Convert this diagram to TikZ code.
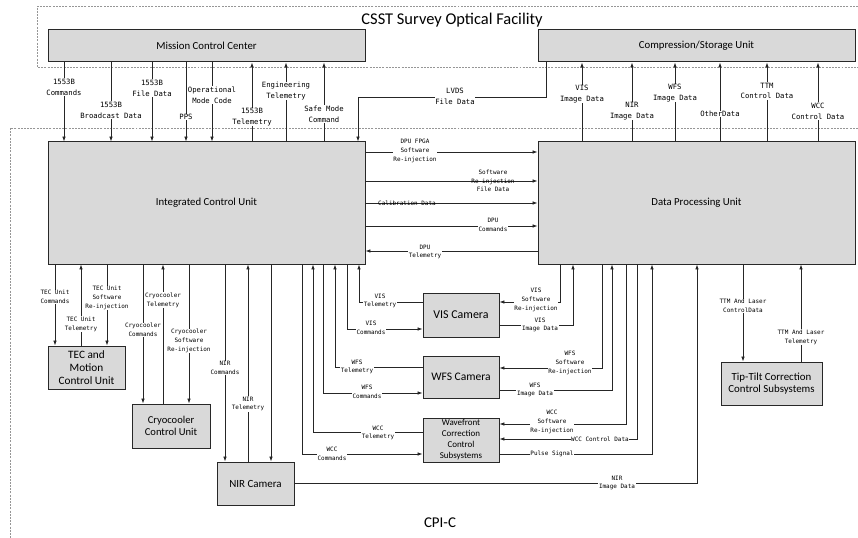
\documentclass[tikz,border=0pt]{standalone}
\usepackage{fontspec}
\setmainfont{Carlito}
\newfontfamily\labfont{DejaVu Sans Mono}
\usetikzlibrary{arrows.meta}
\definecolor{boxfill}{RGB}{217,217,217}
\definecolor{boxline}{RGB}{40,40,40}
\definecolor{dashcol}{RGB}{150,150,150}
\tikzset{
  unitbox/.style={draw=boxline, line width=1pt, fill=boxfill, align=center, inner sep=1pt, font=\fontsize{10.8}{13}\selectfont},
  conn/.style={line width=0.7pt, draw=black!85},
  arr/.style={conn, -{Latex[length=5pt,width=3.6pt]}},
  lab/.style={font=\labfont\fontsize{6}{8.8}\selectfont, align=center, fill=white, inner sep=0.6pt},
  labtop/.style={lab, font=\labfont\fontsize{7.3}{10.8}\selectfont},
  labclear/.style={lab, fill=none},
  region/.style={draw=dashcol, line width=0.5pt, dash pattern=on 2pt off 1.2pt}
}
\begin{document}
\begin{tikzpicture}[x=1bp, y=-1bp]
\useasboundingbox (0,0) rectangle (858,538);
% regions
\draw[region] (858,6) -- (37,6) -- (37,67) -- (858,67);
\draw[region] (858,128) -- (10,128) -- (10,538);
\node[font=\fontsize{16.5}{19}\selectfont] (ttl) at (452,20) {CSST Survey Optical Facility};
\node[font=\fontsize{15}{17}\selectfont] (cpic) at (440,523) {CPI-C};
% boxes
\node[unitbox, minimum width=317bp, minimum height=32bp] (mcc) at (206.5,46) {Mission Control Center};
\node[unitbox, minimum width=317bp, minimum height=32bp] (csu) at (696.5,46) {Compression/Storage Unit};
\node[unitbox, minimum width=317bp, minimum height=122bp] (icu) at (206.5,203) {Integrated Control Unit};
\node[unitbox, minimum width=317bp, minimum height=122bp] (dpu) at (696.5,203) {Data Processing Unit};
\node[unitbox, minimum width=77bp, minimum height=43bp, font=\fontsize{11.3}{13}\selectfont] (tec) at (86.5,367.5) {TEC and\\Motion\\Control Unit};
\node[unitbox, minimum width=78bp, minimum height=44bp, font=\fontsize{10.6}{12.3}\selectfont] (cryo) at (171,426) {Cryocooler\\Control Unit};
\node[unitbox, minimum width=77bp, minimum height=43bp, font=\fontsize{11}{13}\selectfont] (nir) at (255.5,483.5) {NIR Camera};
\node[unitbox, minimum width=76bp, minimum height=44bp, font=\fontsize{12}{13}\selectfont] (vis) at (461,315) {VIS Camera};
\node[unitbox, minimum width=76bp, minimum height=42bp, font=\fontsize{11.6}{13}\selectfont] (wfs) at (461,377) {WFS Camera};
\node[unitbox, minimum width=76bp, minimum height=44bp, font=\fontsize{9}{11}\selectfont] (wcc) at (461,440) {Wavefront\\Correction\\Control\\Subsystems};
\node[unitbox, minimum width=101bp, minimum height=43bp, font=\fontsize{10.9}{12.3}\selectfont] (ttc) at (771.5,383.5) {Tip-Tilt Correction\\Control Subsystems};

% MCC <-> ICU
\foreach \x in {64,111,152,186,212} \draw[arr] (mcc.south -| \x,0) -- (icu.north -| \x,0);
\foreach \x in {252,286,324} \draw[arr] (icu.north -| \x,0) -- (mcc.south -| \x,0);
\draw[arr] (csu.south -| 546,0) -- (546,97) -- (358,97) -- (icu.north -| 358,0);
% DPU -> CSU
\foreach \x in {582,632,675,720,767,818} \draw[arr] (dpu.north -| \x,0) -- (csu.south -| \x,0);
% ICU <-> DPU
\foreach \y in {152,181,203,226} \draw[arr] (icu.east |- 0,\y) -- (dpu.west |- 0,\y);
\draw[arr] (dpu.west |- 0,251) -- (icu.east |- 0,251);
% ICU -> TEC / Cryo / NIR
\draw[arr] (icu.south -| 55,0) -- (tec.north -| 55,0);
\draw[arr] (tec.north -| 81,0) -- (icu.south -| 81,0);
\draw[arr] (icu.south -| 107,0) -- (tec.north -| 107,0);
\draw[arr] (icu.south -| 143,0) -- (cryo.north -| 143,0);
\draw[arr] (cryo.north -| 163,0) -- (icu.south -| 163,0);
\draw[arr] (icu.south -| 189,0) -- (cryo.north -| 189,0);
\draw[arr] (icu.south -| 225,0) -- (nir.north -| 225,0);
\draw[arr] (nir.north -| 248,0) -- (icu.south -| 248,0);
\draw[arr] (icu.south -| 271,0) -- (nir.north -| 271,0);
% ICU <-> cameras
\draw[arr] (icu.south -| 302,0) |- (wcc.west |- 0,454);
\draw[arr] (wcc.west |- 0,432) -| (icu.south -| 313,0);
\draw[arr] (icu.south -| 323,0) |- (wfs.west |- 0,393);
\draw[arr] (wfs.west |- 0,367) -| (icu.south -| 335,0);
\draw[arr] (icu.south -| 347,0) |- (vis.west |- 0,329);
\draw[arr] (vis.west |- 0,302) -| (icu.south -| 359,0);
% DPU <-> cameras
\draw[arr] (dpu.south -| 560,0) |- (vis.east |- 0,302);
\draw[arr] (vis.east |- 0,325) -| (dpu.south -| 573,0);
\draw[arr] (dpu.south -| 602,0) |- (wfs.east |- 0,368);
\draw[arr] (wfs.east |- 0,390) -| (dpu.south -| 612,0);
\draw[arr] (dpu.south -| 626,0) |- (wcc.east |- 0,424);
\draw[arr] (dpu.south -| 637,0) |- (wcc.east |- 0,439);
\draw[arr] (wcc.east |- 0,454) -| (dpu.south -| 652,0);
\draw[arr] (nir.east |- 0,483) -| (dpu.south -| 697,0);
\draw[arr] (dpu.south -| 743,0) -- (ttc.north -| 743,0);
\draw[arr] (ttc.north -| 801,0) -- (dpu.south -| 801,0);

% labels top
\node[labtop] (l1) at (64,87) {1553B\\Commands};
\node[labtop] (l2) at (111,110) {1553B\\Broadcast Data};
\node[labtop] (l3) at (152,88) {1553B\\File Data};
\node[labtop] (l4) at (186,117) {PPS};
\node[labtop] (l5) at (212,95) {Operational\\Mode Code};
\node[labtop] (l6) at (252,117) {1553B\\Telemetry};
\node[labtop] (l7) at (286,91) {Engineering\\Telemetry};
\node[labtop] (l8) at (324,114) {Safe Mode\\Command};
\node[labtop] (l9) at (455,96) {LVDS\\File Data};
\node[labtop] (l10) at (582,94) {VIS\\Image Data};
\node[labtop] (l11) at (632,111) {NIR\\Image Data};
\node[labtop] (l12) at (675,93) {WFS\\Image Data};
\node[labtop] (l13) at (720,114) {OtherData};
\node[labtop] (l14) at (767,91) {TTM\\Control Data};
\node[labtop] (l15) at (818,111) {WCC\\Control Data};
% labels middle
\node[lab] (m1) at (415,151) {DPU FPGA\\Software\\Re-injection};
\node[labclear] (m2) at (493,181) {Software\\Re-injection\\File Data};
\node[labclear] (m3) at (407,203) {Calibration Data};
\node[lab] (m4) at (493,225) {DPU\\Commands};
\node[lab] (m5) at (425,252) {DPU\\Telemetry};
% labels bottom left
\node[lab] (b1) at (55,297) {TEC Unit\\Commands};
\node[lab] (b2) at (81,324) {TEC Unit\\Telemetry};
\node[lab] (b3) at (107,298) {TEC Unit\\Software\\Re-injection};
\node[lab] (b4) at (143,330) {Cryocooler\\Commands};
\node[lab] (b5) at (163,300) {Cryocooler\\Telemetry};
\node[lab] (b6) at (189,341) {Cryocooler\\Software\\Re-injection};
\node[lab] (b7) at (225,368) {NIR\\Commands};
\node[lab] (b8) at (248,404) {NIR\\Telemetry};
\node[lab] (c1) at (380,301) {VIS\\Telemetry};
\node[lab] (c2) at (371,328) {VIS\\Commands};
\node[lab] (c3) at (357,367) {WFS\\Telemetry};
\node[lab] (c4) at (367,392) {WFS\\Commands};
\node[lab] (c5) at (378,433) {WCC\\Telemetry};
\node[lab] (c6) at (332,454) {WCC\\Commands};
% labels right
\node[lab] (r1) at (536,300) {VIS\\Software\\Re-injection};
\node[lab] (r2) at (540,325) {VIS\\Image Data};
\node[lab] (r3) at (570,363) {WFS\\Software\\Re-injection};
\node[lab] (r4) at (535,390) {WFS\\Image Data};
\node[lab] (r5) at (552,422) {WCC\\Software\\Re-injection};
\node[lab] (r6) at (600,439) {WCC Control Data};
\node[lab] (r7) at (552,454) {Pulse Signal};
\node[lab] (r8) at (617,483) {NIR\\Image Data};
\node[lab] (r9) at (743,306) {TTM And Laser\\ControlData};
\node[lab] (r10) at (801,337) {TTM And Laser\\Telemetry};
\end{tikzpicture}
\end{document}
